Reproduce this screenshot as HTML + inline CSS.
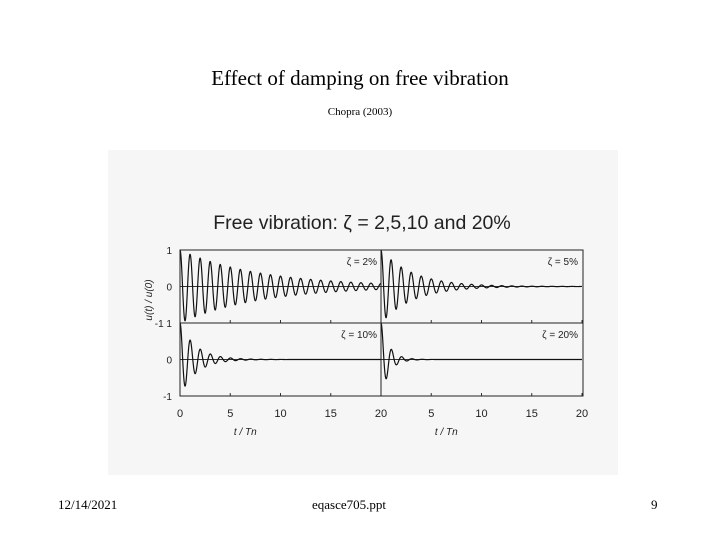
<!DOCTYPE html>
<html><head><meta charset="utf-8"><style>
body{margin:0;width:720px;height:540px;background:#fff;position:relative;overflow:hidden;font-family:"Liberation Serif",serif}
.t{position:absolute;white-space:nowrap}
</style></head><body>
<div class="t" style="left:0;width:720px;text-align:center;top:66px;font-size:21px">Effect of damping on free vibration</div>
<div class="t" style="left:0;width:720px;text-align:center;top:106px;font-size:11px">Chopra (2003)</div>
<svg id="c" style="position:absolute;left:108px;top:150px" width="510" height="325" viewBox="108 150 510 325"></svg>
<div class="t" style="left:58px;top:497px;font-size:13px">12/14/2021</div>
<div class="t" style="left:312px;top:497px;font-size:13px">eqasce705.ppt</div>
<div class="t" style="left:651px;top:497px;font-size:13px">9</div>
<script>
const dampingRatios=[0.02,0.05,0.10,0.20];
const panelLabels=["ζ = 2%","ζ = 5%","ζ = 10%","ζ = 20%"];
const xTicks=[0,5,10,15,20];
const yTicks=[1,0,-1];
const NS="http://www.w3.org/2000/svg";
const svg=document.getElementById('c');
function mk(t,a,p){const e=document.createElementNS(NS,t);for(const k in a)e.setAttribute(k,a[k]);(p||svg).appendChild(e);return e;}
mk('rect',{x:108,y:150,width:510,height:325,fill:'#f6f6f6'});
const L=180,M=381,R=583,tops=[250,323],H=73;
const xs=(col,v)=>(col?M:L)+v/20*(M-L);
const ys=(row,v)=>tops[row]+H/2-v*(H/2);
const sans='"Liberation Sans",sans-serif';
let tt=mk('text',{x:362,y:229,'text-anchor':'middle','font-family':sans,'font-size':19.5,fill:'#222'});tt.textContent='Free vibration: ζ = 2,5,10 and 20%';


dampingRatios.forEach((z,i)=>{
  const row=Math.floor(i/2),col=i%2;
  const g=mk('g',{});
  
  
  mk('line',{x1:xs(col,0),x2:xs(col,20),y1:ys(row,0),y2:ys(row,0),stroke:'#333','stroke-width':1},g);
  xTicks.forEach(t=>{mk('line',{x1:xs(col,t),x2:xs(col,t),y1:tops[row]+H,y2:tops[row]+H-3,stroke:'#333'},g);});
  const wd=2*Math.PI*Math.sqrt(1-z*z),wn=2*Math.PI;
  let d='';
  for(let k=0;k<=2000;k++){const t=k/100;const u=Math.exp(-z*wn*t)*(Math.cos(wd*t)+z/Math.sqrt(1-z*z)*Math.sin(wd*t));d+=(k?'L':'M')+xs(col,t).toFixed(2)+','+ys(row,u).toFixed(2);}
  const p=mk('path',{d:d,fill:'none',stroke:'#111','stroke-width':1.2},g);
  
  
  const lb=mk('text',{x:xs(col,20)-4,y:tops[row]+15,'text-anchor':'end','font-family':sans,'font-size':10,fill:'#222'},g);
  lb.textContent=panelLabels[i];
});
mk('rect',{x:L,y:250,width:R-L,height:2*H,fill:'none',stroke:'#222','stroke-width':1});
mk('line',{x1:L,x2:R,y1:323,y2:323,stroke:'#222'});
mk('line',{x1:M,x2:M,y1:250,y2:396,stroke:'#222'});
[0,1].forEach(row=>yTicks.forEach(v=>{const t=mk('text',{x:172,y:ys(row,v)+4,'text-anchor':'end','font-family':sans,'font-size':10,fill:'#222'});t.textContent=(row===0&&v===-1)?'-1 1':String(v);if(row===1&&v===1)t.remove();}));
[0,1].forEach(col=>xTicks.forEach((v,j)=>{if(col===1&&j===0)return;const t=mk('text',{x:xs(col,v),y:417,'text-anchor':'middle','font-family':sans,'font-size':11,fill:'#222'});t.textContent=String(v);}));
[0,1].forEach(col=>{const t=mk('text',{x:xs(col,6.5),y:435,'text-anchor':'middle','font-family':sans,'font-size':10,'font-style':'italic',fill:'#222'});t.textContent='t / Tn';});
const yl=mk('text',{x:152,y:300,'text-anchor':'middle','font-family':sans,'font-size':10,'font-style':'italic',fill:'#222',transform:'rotate(-90 152 300)'});yl.textContent='u(t) / u(0)';


</script>
</body></html>
